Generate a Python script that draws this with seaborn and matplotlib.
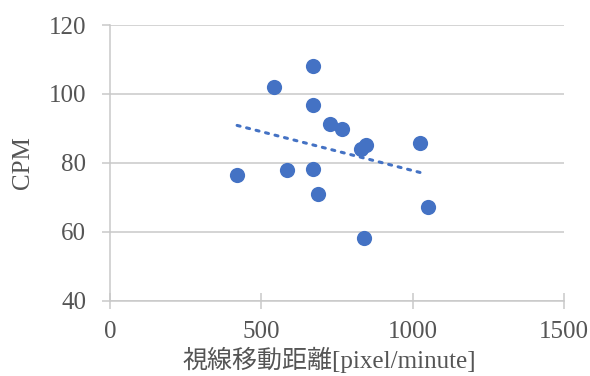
import numpy as np
import pandas as pd
import matplotlib
matplotlib.use("Agg")
import matplotlib.pyplot as plt
import seaborn as sns

# data
gaze_distance = [670, 542, 672, 727, 766, 845, 829, 1024, 420, 585, 672, 686, 1050, 840]
cpm = [108.1, 101.9, 96.7, 91.4, 89.7, 85.1, 83.9, 85.8, 76.4, 77.9, 78.3, 71.1, 67.1, 58.2]
x_ticks = [0, 500, 1000, 1500]
y_ticks = [40, 60, 80, 100, 120]
x_label = "視線移動距離[pixel/minute]"
y_label = "CPM"

df = pd.DataFrame({"x": gaze_distance, "y": cpm})

sns.set_theme(style="white")
plt.rcParams["font.family"] = ["Liberation Serif", "Noto Sans CJK JP", "DejaVu Sans"]

blue = "#4472C4"
grid_c = "#C9C9C9"
text_c = "#555555"

fig = plt.figure(figsize=(5.9, 3.76), dpi=100)
ax = fig.add_axes([0.1864, 0.2003, 0.956 - 0.1864, 0.9335 - 0.2003])

sns.scatterplot(data=df, x="x", y="y", ax=ax, s=120, color=blue,
                edgecolor=blue, linewidth=0, zorder=3, legend=False)

# linear trendline over data range
coef = np.polyfit(df["x"], df["y"], 1)
xs = np.array([df["x"].min(), df["x"].max() - 15])
ax.plot(xs, np.polyval(coef, xs), linestyle=(0, (1, 2.2)), color=blue,
        linewidth=2.2, dash_capstyle="round", zorder=2)

ax.set_xlim(0, 1500)
ax.set_ylim(40, 120)
ax.set_xticks(x_ticks)
ax.set_yticks(y_ticks)
ax.yaxis.grid(True, color=grid_c, linewidth=1.1)
ax.set_axisbelow(True)

for side in ["top", "right"]:
    ax.spines[side].set_visible(False)
for side in ["left", "bottom"]:
    ax.spines[side].set_color(grid_c)
    ax.spines[side].set_linewidth(1.1)

ax.tick_params(axis="x", direction="inout", length=11, width=1.1, color=grid_c,
               labelsize=18, labelcolor=text_c, pad=9, bottom=True)
ax.tick_params(axis="y", direction="out", length=6, width=1.1, color=grid_c,
               labelsize=18, labelcolor=text_c, pad=11, left=True)

ax.set_xlabel(x_label, fontsize=18, color=text_c, labelpad=3)
ax.xaxis.label.set_x(0.483)
ax.set_ylabel(y_label, fontsize=18, color=text_c, labelpad=11)

fig.savefig("out.png", dpi=100)
